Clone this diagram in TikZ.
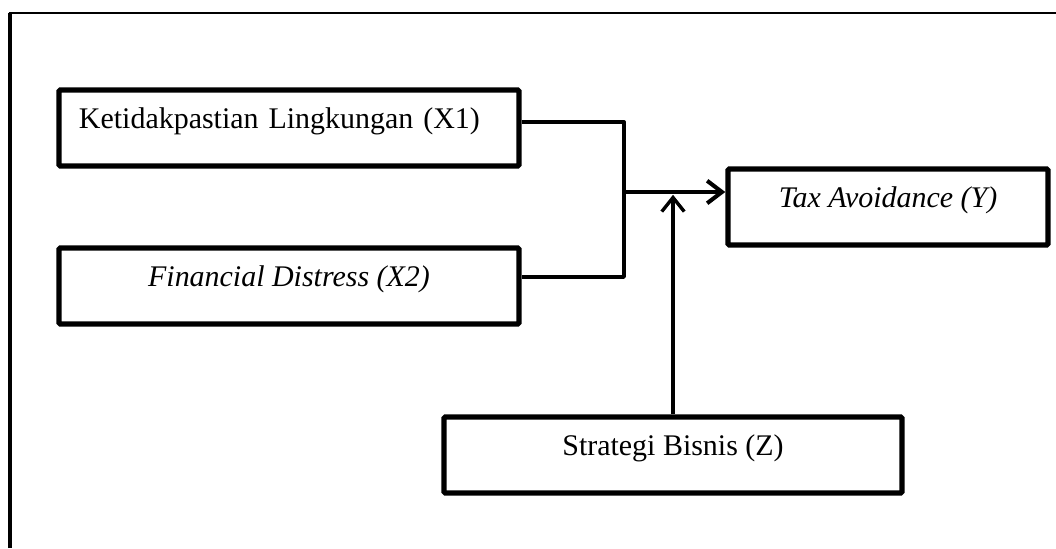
\documentclass[tikz,border=0pt]{standalone}
\usepackage{fontspec}
\setmainfont{Liberation Serif}
\usetikzlibrary{arrows.meta}
\usetikzlibrary{positioning}

\tikzset{
  varbox/.style={draw,line width=3.8pt,rounded corners=1pt,inner sep=0pt,
    minimum height=1.9cm,text height=0.95cm,text depth=0.95cm},
  link/.style={line width=2.4pt},
  linkarrow/.style={line width=2.9pt,-{Straight Barb[length=10.5pt,width=16pt,line width=2.9pt]}}
}

\begin{document}
\begin{tikzpicture}[x=0.025cm,y=-0.025cm,font=\fontsize{21.3}{26}\selectfont]

  \useasboundingbox (0,0) rectangle (1056,548);

  % Frame
  \draw[line width=3.2pt] (10,548) -- (10,13);
  \draw[line width=1.5pt] (8.5,13) -- (1056,13);

  % Variables
  \node[varbox,minimum width=11.5cm,text width=10.5cm,align=left,inner xsep=0.5cm] (X1) at (289,128) {Ketidakpastian Lingkungan (X1)};
  \node[varbox,minimum width=11.5cm] (X2) at (289,286) {\textit{Financial Distress (X2)}};
  \node[varbox,minimum width=8cm] (Y) at (888,207) {\textit{Tax Avoidance (Y)}};
  \node[varbox,minimum width=11.45cm] (Z) at (673,455) {Strategi Bisnis (Z)};

  % Junction points
  \coordinate (j1) at (624,122);
  \coordinate (j2) at (624,277);
  \coordinate (jm) at (624,192);

  % Connectors
  \draw[link,line join=round] (X1.east |- j1) -- (j1) -- (j2) -- (X2.east |- j2);
  \draw[linkarrow] (jm) -- (Y.west |- jm);
  \draw[link,-{Straight Barb[length=10pt,width=16pt,line width=2.4pt]}] (Z.north) -- ([yshift=-2pt]Z.north |- jm);
\end{tikzpicture}
\end{document}
